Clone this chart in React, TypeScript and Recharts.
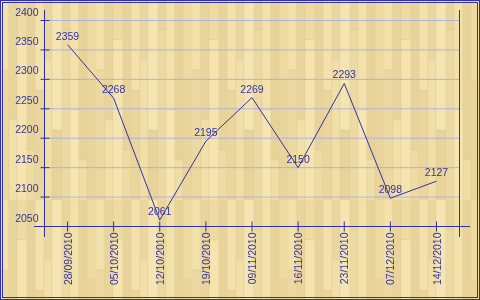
import { CartesianGrid, LabelList, Line, LineChart, XAxis, YAxis } from "recharts";

const dates = [
  "28/09/2010",
  "05/10/2010",
  "12/10/2010",
  "19/10/2010",
  "09/11/2010",
  "16/11/2010",
  "23/11/2010",
  "07/12/2010",
  "14/12/2010",
];
const prices = [2359, 2268, 2061, 2195, 2269, 2150, 2293, 2098, 2127];
const yTicks = [2050, 2100, 2150, 2200, 2250, 2300, 2350, 2400];

const data = dates.map((date, i) => ({ date, price: prices[i] }));

const BLUE = "#3232a6";
const FONT = "'Liberation Sans', Arial, sans-serif";

// wood planks for the backdrop: [x, y, w, h, colour] inside one tile
const planks: [number, number, number, number, string][] = [
  [0, 0, 9, 70, "#f3e1ab"], [0, 70, 9, 130, "#ecd9a1"],
  [9, 0, 8, 120, "#e9d59c"], [9, 120, 8, 80, "#f2e0a9"],
  [17, 0, 10, 40, "#eedba3"], [17, 40, 10, 160, "#f5e4b0"],
  [27, 0, 8, 150, "#e8d49a"], [27, 150, 8, 50, "#eedba3"],
  [35, 0, 9, 90, "#f3e2ad"], [35, 90, 9, 110, "#ead69d"],
  [44, 0, 8, 60, "#ebd79e"], [44, 60, 8, 140, "#f1dfa8"],
  [52, 0, 10, 130, "#f5e5b2"], [52, 130, 10, 70, "#e8d39a"],
  [62, 0, 8, 30, "#e9d59b"], [62, 30, 8, 170, "#eddaa2"],
  [70, 0, 9, 110, "#f2e1ab"], [70, 110, 9, 90, "#f6e6b4"],
  [79, 0, 8, 160, "#e7d298"], [79, 160, 8, 40, "#f0dea7"],
  [87, 0, 9, 80, "#eedba4"], [87, 80, 9, 120, "#e9d59b"],
];

function WoodBackground() {
  return (
    <svg width={480} height={300} style={{ position: "absolute", left: 0, top: 0 }}>
      <defs>
        <pattern id="wood" width={96} height={200} patternUnits="userSpaceOnUse">
          {planks.map(([x, y, w, h, c], i) => (
            <rect key={i} x={x} y={y} width={w} height={h} fill={c} stroke="#e3cd92" strokeWidth={0.4} />
          ))}
        </pattern>
      </defs>
      <rect x={0} y={0} width={480} height={300} fill="url(#wood)" />
    </svg>
  );
}

function Frame() {
  return (
    <svg width={480} height={300} style={{ position: "absolute", left: 0, top: 0, pointerEvents: "none" }}>
      <rect x={0.5} y={0.5} width={479} height={299} fill="none" stroke={BLUE} />
      <rect x={2.5} y={2.5} width={475} height={295} fill="none" stroke={BLUE} />
      <line x1={44.5} x2={44.5} y1={10} y2={237} stroke={BLUE} />
      <line x1={459.5} x2={459.5} y1={10} y2={237} stroke={BLUE} />
      <line x1={34} x2={470} y1={226.5} y2={226.5} stroke={BLUE} />
    </svg>
  );
}

const LeftTick = ({ x, y, payload }: any) => (
  <g>
    <line x1={x - 4} x2={x + 5} y1={y} y2={y} stroke={BLUE} />
    <text x={x - 6} y={y - 5} textAnchor="end" fill={BLUE} fontSize={10.5} fontFamily={FONT}>
      {payload.value}
    </text>
  </g>
);

const RightTick = ({ x, y }: any) => (
  <line x1={x - 4} x2={x + 5} y1={y} y2={y} stroke={BLUE} />
);

const DateTick = ({ x, y, payload }: any) => (
  <g>
    <line x1={x} x2={x} y1={y - 5} y2={y + 5} stroke={BLUE} />
    <text
      transform={`translate(${x + 4},${y + 6}) rotate(-90)`}
      textAnchor="end"
      fill={BLUE}
      fontSize={10.5}
      fontFamily={FONT}
    >
      {payload.value}
    </text>
  </g>
);

export default function App() {
  return (
    <div style={{ position: "fixed", left: 0, top: 0, width: 480, height: 300 }}>
      <WoodBackground />
      <div style={{ position: "absolute", left: 0, top: 0 }}>
        <LineChart
          width={480}
          height={300}
          data={data}
          margin={{ top: 20.5, right: 0, bottom: 0, left: 0 }}
          style={{ fontFamily: FONT }}
        >
          <CartesianGrid yAxisId="left" horizontal vertical={false} stroke="#aeb2de" strokeWidth={1} />
          <XAxis
            dataKey="date"
            scale="point"
            padding={{ left: 23, right: 23 }}
            height={73.5}
            axisLine={false}
            tickLine={false}
            tickSize={0}
            tickMargin={0}
            interval={0}
            tick={<DateTick />}
          />
          <YAxis
            yAxisId="left"
            domain={[2050, 2400]}
            ticks={yTicks}
            width={44.5}
            axisLine={false}
            tickLine={false}
            tickSize={0}
            tickMargin={0}
            interval={0}
            tick={<LeftTick />}
          />
          <YAxis
            yAxisId="right"
            orientation="right"
            domain={[2050, 2400]}
            ticks={yTicks}
            width={20.5}
            axisLine={false}
            tickLine={false}
            tickSize={0}
            tickMargin={0}
            interval={0}
            tick={<RightTick />}
          />
          <Line
            yAxisId="left"
            type="linear"
            dataKey="price"
            stroke={BLUE}
            strokeWidth={1}
            dot={false}
            activeDot={false}
            isAnimationActive={false}
          >
            <LabelList dataKey="price" position="top" offset={5} fill={BLUE} fontSize={10.5} fontFamily={FONT} />
          </Line>
        </LineChart>
      </div>
      <Frame />
    </div>
  );
}
